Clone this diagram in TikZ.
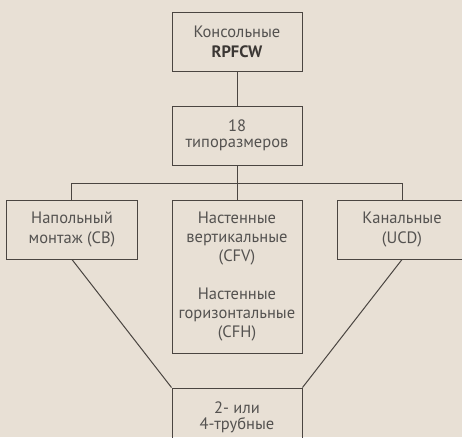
\documentclass[tikz,border=0pt]{standalone}
\usepackage{fontspec}
\setmainfont{PT Sans}
\usetikzlibrary{positioning}
\definecolor{paper}{HTML}{E8E0D5}
\definecolor{ink}{HTML}{4A4541}
\definecolor{txt}{HTML}{545250}

\begin{document}
\begin{tikzpicture}[x=1pt,y=1pt,node distance=34pt,box/.style={draw=ink,line width=1pt,align=center,minimum width=130pt,minimum height=59pt,inner sep=0pt,text=txt,font=\fontsize{16.5}{20}\selectfont},tight/.style={box,font=\fontsize{16.5}{15.5}\selectfont},tall/.style={box,minimum height=153pt,font=\fontsize{16.5}{19}\selectfont},link/.style={draw=ink,line width=1pt}]
\path[use as bounding box,fill=paper] (-237,41.5) rectangle (225,-395.5);
\node[box] (rpfcw) at (0,0) {Консольные\\\textbf{\color{ink!80!black}RPFCW}};
\node[tight,below=of rpfcw] (sizes) {18\\типоразмеров};
\node[tall,below=of sizes] (wall) {Настенные\\вертикальные\\(CFV)\\[19pt]Настенные\\горизонтальные\\(CFH)};
\node[box,left=of wall.north west,anchor=north east] (floor) {Напольный\\монтаж (CB)};
\node[box,right=of wall.north east,anchor=north west] (duct) {Канальные\\(UCD)};
\node[tight,below=of wall] (pipes) {2- или\\4-трубные};
\draw[link] (rpfcw) -- (sizes);
\draw[link] (sizes) -- (wall);
\draw[link] (floor.north) -- ++(0,16) -| (duct.north);
\draw[link] (floor.south) -- (pipes.north west);
\draw[link] (duct.south) -- (pipes.north east);
\end{tikzpicture}
\end{document}
